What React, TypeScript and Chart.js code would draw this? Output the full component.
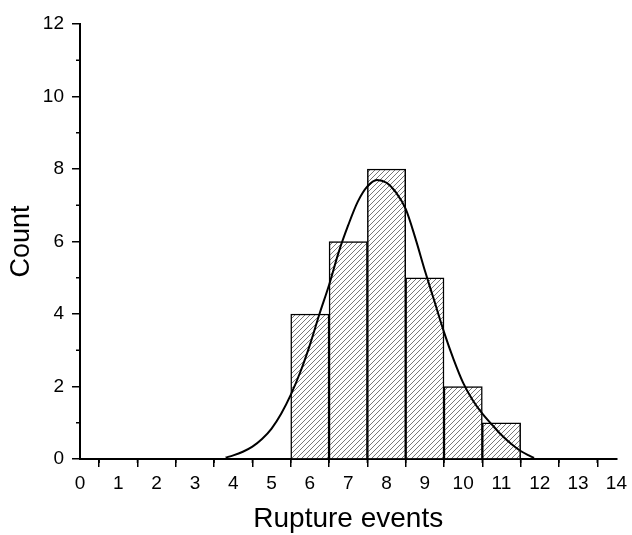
import React, { useEffect, useRef } from 'react';
import { Chart, registerables } from 'chart.js';

Chart.register(...registerables);

// Histogram bins (centres) and counts
const binCenters = [6, 7, 8, 9, 10, 11];
const binCounts = [4, 6, 8, 5, 2, 1];

// Fitted distribution curve
const fitX = [3.8, 4.0, 4.25, 4.5, 4.75, 5.0, 5.25, 5.5, 5.75, 6.0, 6.25, 6.5, 6.75, 7.0, 7.25, 7.5, 7.75, 8.0, 8.25, 8.5, 8.75, 9.0, 9.25, 9.5, 9.75, 10.0, 10.25, 10.5, 10.75, 11.0, 11.25, 11.5, 11.75, 11.85];
const fitY = [0.04, 0.1, 0.2, 0.34, 0.55, 0.84, 1.25, 1.77, 2.4, 3.15, 4.0, 4.8, 5.7, 6.45, 7.1, 7.52, 7.7, 7.62, 7.35, 6.9, 6.1, 5.2, 4.35, 3.5, 2.75, 2.1, 1.62, 1.25, 0.95, 0.66, 0.42, 0.22, 0.08, 0.03];

// Axes
const xMin = 0, xMax = 14, xStep = 1;
const yMin = 0, yMax = 12, yStep = 2;
const xMinorTicks = [0.5, 1.5, 2.5, 3.5, 4.5, 5.5, 6.5, 7.5, 8.5, 9.5, 10.5, 11.5, 12.5, 13.5];
const yMinorTicks = [1, 3, 5, 7, 9, 11];
const xTitle = 'Rupture events';
const yTitle = 'Count';

const FONT = "'Liberation Sans', Arial, sans-serif";

function makeHatch(): CanvasPattern | string {
  const size = 5;
  const c = document.createElement('canvas');
  c.width = size;
  c.height = size;
  const g = c.getContext('2d');
  if (!g) return '#fff';
  g.fillStyle = '#fff';
  g.fillRect(0, 0, size, size);
  g.strokeStyle = '#555';
  g.lineWidth = 0.8;
  g.beginPath();
  g.moveTo(-1, size + 1);
  g.lineTo(size + 1, -1);
  g.moveTo(-1, 1);
  g.lineTo(1, -1);
  g.moveTo(size - 1, size + 1);
  g.lineTo(size + 1, size - 1);
  g.stroke();
  const p = g.createPattern(c, 'repeat');
  return p || '#fff';
}

const minorTicksPlugin = {
  id: 'minorTicks',
  afterDraw(chart: any) {
    const { ctx, chartArea, scales } = chart;
    const x = scales.x;
    const y = scales.y;
    ctx.save();
    ctx.strokeStyle = '#000';
    ctx.lineWidth = 1.5;
    xMinorTicks.forEach((v) => {
      const px = x.getPixelForValue(v);
      ctx.beginPath();
      ctx.moveTo(px, chartArea.bottom);
      ctx.lineTo(px, chartArea.bottom + 4);
      ctx.stroke();
    });
    yMinorTicks.forEach((v) => {
      const py = y.getPixelForValue(v);
      ctx.beginPath();
      ctx.moveTo(chartArea.left, py);
      ctx.lineTo(chartArea.left - 4, py);
      ctx.stroke();
    });
    ctx.restore();
  },
};

export default function App() {
  const ref = useRef<HTMLCanvasElement>(null);

  useEffect(() => {
    if (!ref.current) return;
    const hatch = makeHatch();
    const chart = new Chart(ref.current, {
      type: 'bar',
      data: {
        datasets: [
          {
            type: 'line',
            label: 'fit',
            data: fitX.map((x, i) => ({ x, y: fitY[i] })),
            borderColor: '#000',
            borderWidth: 2,
            pointRadius: 0,
            fill: false,
            cubicInterpolationMode: 'monotone',
            order: 0,
          } as any,
          {
            type: 'bar',
            label: 'Count',
            data: binCenters.map((x, i) => ({ x, y: binCounts[i] })),
            backgroundColor: hatch as any,
            borderColor: '#000',
            borderWidth: 1.5,
            barPercentage: 1,
            categoryPercentage: 1,
            order: 1,
          } as any,
        ],
      },
      options: {
        responsive: false,
        animation: false,
        devicePixelRatio: 1,
        layout: { padding: { top: 24, right: 14, left: 0, bottom: 0 } },
        plugins: {
          legend: { display: false },
          tooltip: { enabled: false },
        },
        scales: {
          x: {
            type: 'linear',
            min: xMin,
            max: xMax,
            offset: false,
            ticks: {
              stepSize: xStep,
              color: '#000',
              font: { family: FONT, size: 19 },
              padding: 5,
              maxRotation: 0,
              autoSkip: false,
            },
            grid: { drawOnChartArea: false, tickLength: 8, color: '#000', lineWidth: 1.5 },
            border: { color: '#000', width: 2 },
            title: {
              display: true,
              text: xTitle,
              color: '#000',
              font: { family: FONT, size: 28, lineHeight: 1 },
              padding: { top: 2, bottom: 2 },
            },
            afterFit: (s: any) => {
              s.height = 76;
            },
          },
          y: {
            min: yMin,
            max: yMax,
            ticks: {
              stepSize: yStep,
              color: '#000',
              font: { family: FONT, size: 19 },
              padding: 8,
            },
            grid: { drawOnChartArea: false, tickLength: 8, color: '#000', lineWidth: 1.5 },
            border: { color: '#000', width: 2 },
            title: {
              display: true,
              text: yTitle,
              color: '#000',
              font: { family: FONT, size: 27, lineHeight: 1 },
              padding: { top: 8, bottom: 0 },
            },
            afterFit: (s: any) => {
              s.width = 80;
            },
          },
        },
      } as any,
      plugins: [minorTicksPlugin],
    });
    return () => chart.destroy();
  }, []);

  return (
    <div style={{ position: 'absolute', left: 0, top: 0, width: 632, height: 535, background: '#fff' }}>
      <canvas ref={ref} width={632} height={535} />
    </div>
  );
}
